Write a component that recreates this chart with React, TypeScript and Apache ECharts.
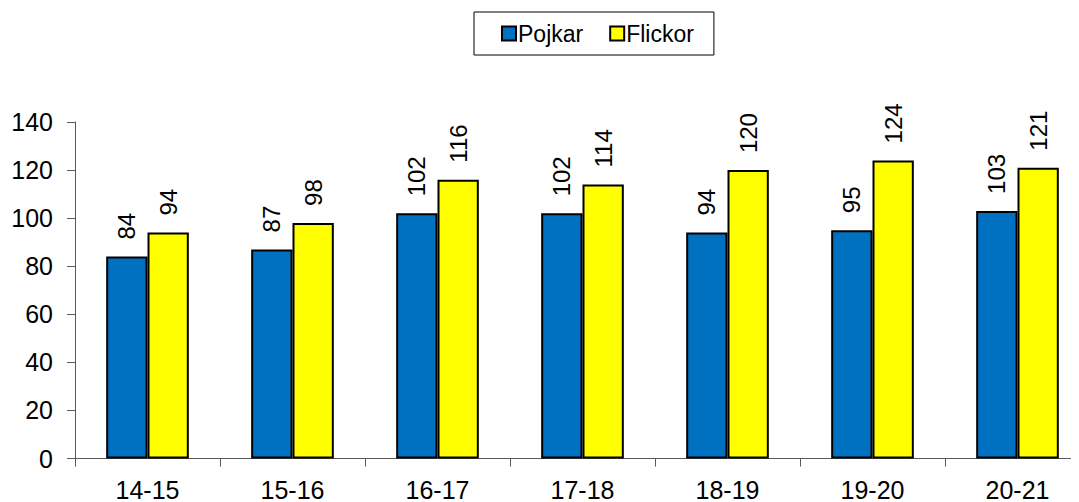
import React, { useEffect, useRef } from "react";
import * as echarts from "echarts";

const categories = ["14-15", "15-16", "16-17", "17-18", "18-19", "19-20", "20-21"];
const pojkar = [84, 87, 102, 102, 94, 95, 103];
const flickor = [94, 98, 116, 114, 120, 124, 121];
const seriesNames = ["Pojkar", "Flickor"];

export default function App() {
  const ref = useRef<HTMLDivElement>(null);
  useEffect(() => {
    if (!ref.current) return;
    const chart = echarts.init(ref.current, undefined, { renderer: "svg" });
    const font = "Arial, 'Liberation Sans', sans-serif";
    const label = {
      show: true,
      position: "top" as const,
      rotate: 90,
      align: "left" as const,
      verticalAlign: "middle" as const,
      distance: 17,
      fontSize: 24,
      fontFamily: font,
      color: "#000",
    };
    chart.setOption({
      animation: false,
      textStyle: { fontFamily: font },
      legend: {
        data: seriesNames,
        left: 466,
        top: 4,
        orient: "horizontal",
        borderColor: "#000",
        borderWidth: 1,
        borderRadius: 0,
        padding: [10, 20, 10, 27],
        itemWidth: 14,
        itemHeight: 14,
        itemGap: 26,
        icon: "rect",
        textStyle: { fontSize: 23, color: "#000", fontFamily: font, padding: [0, 0, 0, -3] },
      },
      grid: { left: 67, right: 18, top: 114, bottom: 42, containLabel: false },
      xAxis: {
        type: "category",
        data: categories,
        axisLine: { lineStyle: { color: "#595959", width: 1 } },
        axisTick: { show: true, length: 8, alignWithLabel: false, lineStyle: { color: "#595959" } },
        axisLabel: { fontSize: 25, lineHeight: 20, color: "#000", margin: 21, fontFamily: font },
      },
      yAxis: {
        type: "value",
        min: 0,
        max: 140,
        interval: 20,
        splitLine: { show: false },
        axisLine: { show: true, lineStyle: { color: "#595959", width: 1 } },
        axisTick: { show: true, length: 8, lineStyle: { color: "#595959" } },
        axisLabel: { fontSize: 25, color: "#000", margin: 22, fontFamily: font },
      },
      series: [
        {
          name: seriesNames[0],
          type: "bar",
          data: pojkar,
          barGap: "0%",
          barCategoryGap: "43%",
          itemStyle: { color: "#0070C0", borderColor: "#000", borderWidth: 2 },
          label,
        },
        {
          name: seriesNames[1],
          type: "bar",
          data: flickor,
          barGap: "0%",
          barCategoryGap: "43%",
          itemStyle: { color: "#FFFF00", borderColor: "#000", borderWidth: 2 },
          label,
        },
      ],
    });
    return () => chart.dispose();
  }, []);
  return <div ref={ref} style={{ width: 1100, height: 494 }} />;
}
